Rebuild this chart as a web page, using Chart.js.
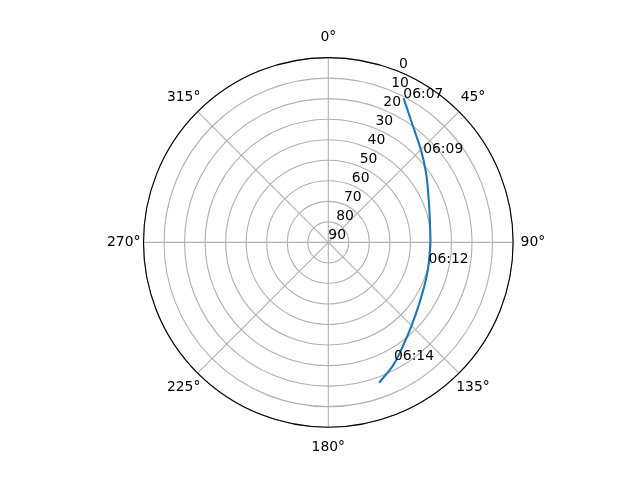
<!DOCTYPE html>
<html>
<head>
<meta charset="utf-8">
<script src="https://cdn.jsdelivr.net/npm/chart.js@4.4.0/dist/chart.umd.min.js"></script>
<style>
html,body{margin:0;padding:0;background:#fff;}
canvas{display:block;background:#fff;}
</style>
</head>
<body>
<canvas id="c" width="640" height="480"></canvas>
<script>
// Track (azimuth in degrees, elevation in degrees)
const trackAz = [27.6, 34.0, 45.1, 54.6, 67.1, 79.2, 88.7, 97.1, 105.5, 113.9, 124.7, 134.7, 143.8, 152.1, 160.1];
const trackEl = [10.8, 18.1, 26.3, 31.6, 36.9, 39.6, 40.3, 40.3, 39.7, 38.7, 36.4, 32.8, 28.1, 22.4, 17.3];

// Time annotations
const timeLabels = ["06:07", "06:09", "06:12", "06:14"];
const timeAz = [27.5, 46.8, 101.8, 150.8];
const timeEl = [10.9, 26.6, 40.1, 24.4];

// Axis ticks
const elevationTicks = [0, 10, 20, 30, 40, 50, 60, 70, 80, 90];
const azimuthTicks = [0, 45, 90, 135, 180, 225, 270, 315];
const azimuthTickLabels = ["0°", "45°", "90°", "135°", "180°", "225°", "270°", "315°"];
const radialLabelAz = 22.5;

const D = Math.PI / 180;
const toXY = (az, el) => ({ x: (90 - el) * Math.sin(az * D), y: (90 - el) * Math.cos(az * D) });

const FONT = '13.9px "DejaVu Sans"';

const polarGrid = {
  id: 'polarGrid',
  beforeDatasetsDraw(chart) {
    const { ctx, scales: { x, y } } = chart;
    const px = p => [x.getPixelForValue(p.x), y.getPixelForValue(p.y)];
    const [cx, cy] = px({ x: 0, y: 0 });
    const pr = v => x.getPixelForValue(v) - cx;
    ctx.save();
    ctx.strokeStyle = '#b0b0b0';
    ctx.lineWidth = 1.1;
    elevationTicks.forEach(el => {
      if (el === 90) return;
      ctx.beginPath();
      ctx.arc(cx, cy, pr(90 - el), 0, Math.PI * 2);
      ctx.stroke();
    });
    azimuthTicks.forEach(a => {
      const [ex, ey] = px(toXY(a, 0));
      ctx.beginPath();
      ctx.moveTo(cx, cy);
      ctx.lineTo(ex, ey);
      ctx.stroke();
    });
    ctx.strokeStyle = '#000';
    ctx.lineWidth = 1.1;
    ctx.beginPath();
    ctx.arc(cx, cy, pr(90), 0, Math.PI * 2);
    ctx.stroke();
    ctx.restore();
  },
  afterDatasetsDraw(chart) {
    const { ctx, scales: { x, y } } = chart;
    const px = p => [x.getPixelForValue(p.x), y.getPixelForValue(p.y)];
    const [cx, cy] = px({ x: 0, y: 0 });
    const R = x.getPixelForValue(90) - cx;
    ctx.save();
    ctx.fillStyle = '#000';
    ctx.font = FONT;
    // radial labels
    ctx.textAlign = 'left';
    ctx.textBaseline = 'bottom';
    elevationTicks.forEach(el => {
      const [tx, ty] = px(toXY(radialLabelAz, el));
      ctx.fillText(String(el), tx, ty);
    });
    // azimuth labels
    ctx.textAlign = 'center';
    ctx.textBaseline = 'middle';
    azimuthTicks.forEach((a, i) => {
      const rr = R + 19.8;
      ctx.fillText(azimuthTickLabels[i], cx + rr * Math.sin(a * D), cy - rr * Math.cos(a * D));
    });
    // time annotations
    ctx.textAlign = 'left';
    ctx.textBaseline = 'alphabetic';
    timeLabels.forEach((t, i) => {
      const [tx, ty] = px(toXY(timeAz[i], timeEl[i]));
      ctx.fillText(t, tx, ty);
    });
    ctx.restore();
  }
};

new Chart(document.getElementById('c'), {
  type: 'scatter',
  data: {
    datasets: [{
      data: trackAz.map((a, i) => toXY(a, trackEl[i])),
      showLine: true,
      borderColor: '#1f77b4',
      borderWidth: 2.1,
      pointRadius: 0,
      tension: 0.35,
      fill: false
    }]
  },
  options: {
    responsive: false,
    animation: false,
    devicePixelRatio: 1,
    layout: { padding: { left: 143.5, right: 126.9, top: 57.6, bottom: 52.8 } },
    plugins: { legend: { display: false }, tooltip: { enabled: false } },
    scales: {
      x: { type: 'linear', min: -90, max: 90, display: false },
      y: { type: 'linear', min: -90, max: 90, display: false }
    }
  },
  plugins: [polarGrid]
});
</script>
</body>
</html>
